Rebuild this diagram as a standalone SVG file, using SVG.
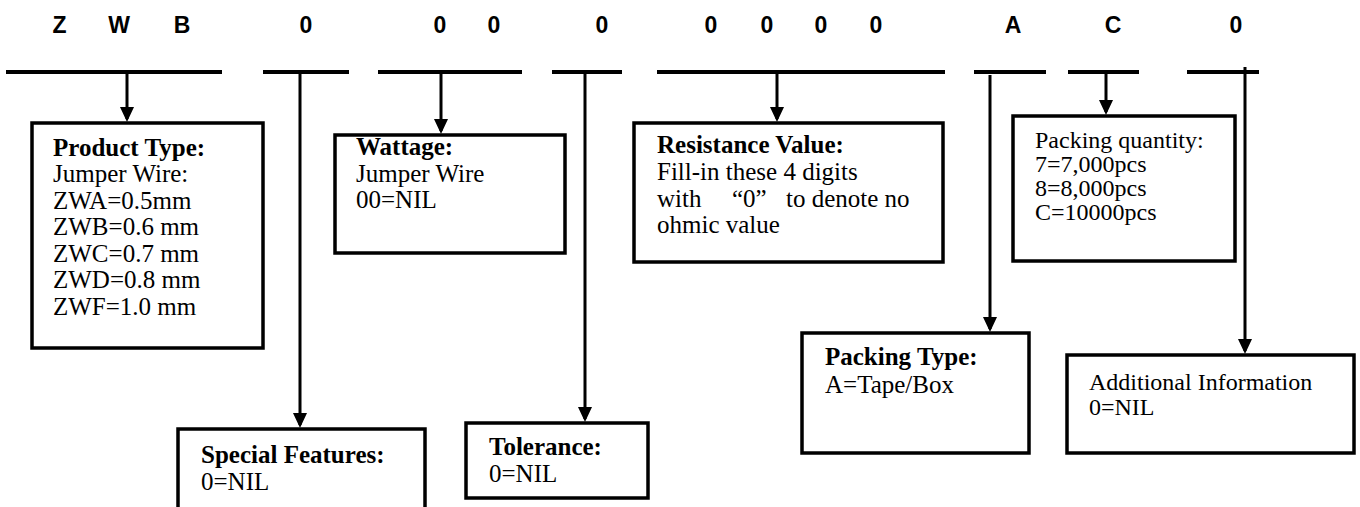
<svg xmlns="http://www.w3.org/2000/svg" width="1360" height="507" viewBox="0 0 1360 507">
<style>
.code{font-family:"Liberation Sans",Arial,sans-serif;font-weight:bold;font-size:23px;fill:#000;text-anchor:middle}
.t{font-family:"Liberation Serif","Times New Roman",serif;font-size:25px;fill:#000}
.t2{font-family:"Liberation Serif","Times New Roman",serif;font-size:24px;fill:#000}
.b{font-weight:bold}
.box{fill:#fff;stroke:#000;stroke-width:3.5}
.bar{stroke:#000;stroke-width:4}
.con{stroke:#000;stroke-width:3;fill:none}
</style>
<defs>
<marker id="arr" viewBox="0 0 15 14" refX="12" refY="7" markerWidth="15" markerHeight="14" markerUnits="userSpaceOnUse" orient="auto">
<path d="M0,0 L15,7 L0,14 z" fill="#000"/>
</marker>
</defs>
<rect width="1360" height="507" fill="#fff"/>
<g id="code">
<text class="code" x="59.5" y="33">Z</text>
<text class="code" x="119" y="33">W</text>
<text class="code" x="182" y="33">B</text>
<text class="code" x="306" y="33">0</text>
<text class="code" x="440" y="33">0</text>
<text class="code" x="494" y="33">0</text>
<text class="code" x="602" y="33">0</text>
<text class="code" x="711" y="33">0</text>
<text class="code" x="767" y="33">0</text>
<text class="code" x="821" y="33">0</text>
<text class="code" x="876" y="33">0</text>
<text class="code" x="1013" y="33">A</text>
<text class="code" x="1113" y="33">C</text>
<text class="code" x="1236" y="33">0</text>
</g>
<g id="bars">
<line class="bar" x1="6" y1="72" x2="222" y2="72"/>
<line class="bar" x1="263" y1="72" x2="349" y2="72"/>
<line class="bar" x1="378" y1="72" x2="522" y2="72"/>
<line class="bar" x1="552" y1="72" x2="622" y2="72"/>
<line class="bar" x1="657" y1="72" x2="945" y2="72"/>
<line class="bar" x1="974" y1="72" x2="1046" y2="72"/>
<line class="bar" x1="1068" y1="72" x2="1139" y2="72"/>
<line class="bar" x1="1187" y1="72" x2="1259" y2="72"/>
</g>
<g id="product-type">
<rect class="box" x="32" y="123" width="231" height="225"/>
<text class="t b" x="53" y="156">Product Type:</text>
<text class="t" x="53" y="182">Jumper Wire:</text>
<text class="t" x="53" y="208.5">ZWA=0.5mm</text>
<text class="t" x="53" y="235">ZWB=0.6 mm</text>
<text class="t" x="53" y="261.5">ZWC=0.7 mm</text>
<text class="t" x="53" y="288">ZWD=0.8 mm</text>
<text class="t" x="53" y="314.5">ZWF=1.0 mm</text>
</g>
<g id="wattage">
<rect class="box" x="335" y="135" width="230" height="118"/>
<text class="t b" x="356" y="155">Wattage:</text>
<text class="t" x="356" y="181.5">Jumper Wire</text>
<text class="t" x="356" y="208">00=NIL</text>
</g>
<g id="resistance-value">
<rect class="box" x="634" y="123" width="309" height="139"/>
<text class="t b" x="657" y="153">Resistance Value:</text>
<text class="t" x="657" y="180">Fill-in these 4 digits</text>
<text class="t" x="657" y="206.5"><tspan>with</tspan><tspan x="732">“0”</tspan><tspan x="786">to denote no</tspan></text>
<text class="t" x="657" y="233">ohmic value</text>
</g>
<g id="packing-quantity">
<rect class="box" x="1013" y="116" width="222" height="145"/>
<text class="t2" x="1035" y="148">Packing quantity:</text>
<text class="t2" x="1035" y="172">7=7,000pcs</text>
<text class="t2" x="1035" y="196">8=8,000pcs</text>
<text class="t2" x="1035" y="220">C=10000pcs</text>
</g>
<g id="special-features">
<rect class="box" x="178" y="429" width="247" height="100"/>
<text class="t b" x="201" y="463">Special Features:</text>
<text class="t" x="201" y="490">0=NIL</text>
</g>
<g id="tolerance">
<rect class="box" x="466" y="423" width="182" height="75"/>
<text class="t b" x="489" y="455">Tolerance:</text>
<text class="t" x="489" y="482">0=NIL</text>
</g>
<g id="packing-type">
<rect class="box" x="802" y="333" width="227" height="120"/>
<text class="t b" x="825" y="365">Packing Type:</text>
<text class="t" x="825" y="393">A=Tape/Box</text>
</g>
<g id="additional-information">
<rect class="box" x="1067" y="355" width="287" height="98"/>
<text class="t2" x="1089" y="390">Additional Information</text>
<text class="t2" x="1089" y="415">0=NIL</text>
</g>
<g id="connectors">
<line class="con" x1="127" y1="73" x2="127" y2="119" marker-end="url(#arr)"/>
<line class="con" x1="300" y1="73" x2="300" y2="425" marker-end="url(#arr)"/>
<line class="con" x1="441" y1="73" x2="441" y2="131" marker-end="url(#arr)"/>
<line class="con" x1="585" y1="73" x2="585" y2="419" marker-end="url(#arr)"/>
<line class="con" x1="777" y1="73" x2="777" y2="119" marker-end="url(#arr)"/>
<line class="con" x1="990" y1="75" x2="990" y2="329" marker-end="url(#arr)"/>
<line class="con" x1="1106" y1="73" x2="1106" y2="112" marker-end="url(#arr)"/>
<line class="con" x1="1245" y1="67" x2="1245" y2="351" marker-end="url(#arr)"/>
</g>
</svg>
